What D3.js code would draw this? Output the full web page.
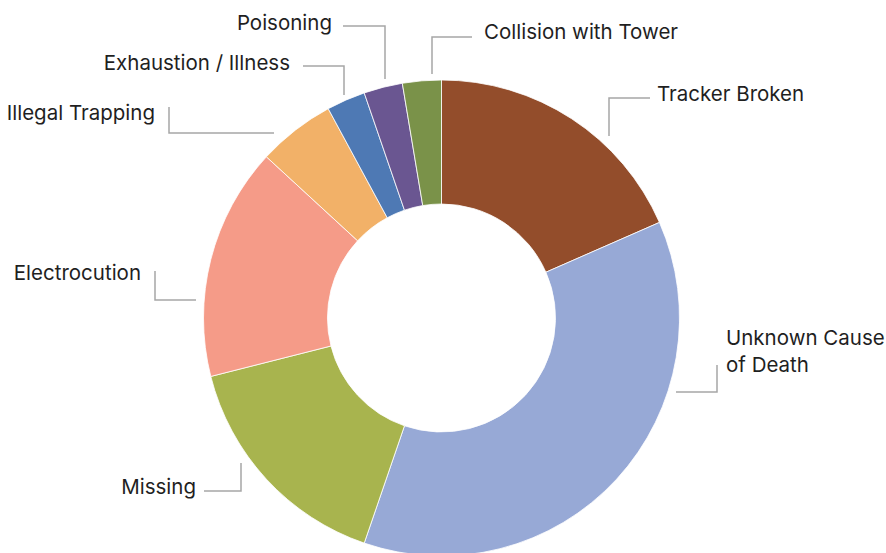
<html lang="en">
<head>
<meta charset="UTF-8">
<title>Causes</title>
<style>
  body { margin: 0; background: #fff; }
  .slice { stroke: #fff; stroke-width: 0.8px; }
  .leader { fill: none; stroke: #a6a6a6; stroke-width: 1.5px; }
  .label { font-family: Inter, "Noto Sans", sans-serif; font-size: 20.5px; fill: #1f1f1f; }
</style>
</head>
<body>
<svg></svg>
<script src="https://cdnjs.cloudflare.com/ajax/libs/d3/7.8.5/d3.min.js"></script>
<script>

var categories = ["Tracker Broken", "Unknown Cause of Death", "Missing", "Electrocution",
                  "Illegal Trapping", "Exhaustion / Illness", "Poisoning", "Collision with Tower"];
var counts = [7, 14, 6, 6, 2, 1, 1, 1];
var colors = ["#934d2b", "#97a9d6", "#a8b44e", "#f59b88", "#f2b168", "#4e79b4", "#6a5691", "#7a9249"];

var width = 886,
    height = 553,
    cx = 441.5,
    cy = 318,
    outer = 238,
    inner = 114;

// label placement: text lines, anchor, text x / baseline, leader polyline
var labelLayout = [
  { lines: ["Tracker Broken"], anchor: "start", x: 657, y: 101, leader: [[609, 136], [609, 98], [650, 98]] },
  { lines: ["Unknown Cause", "of Death"], anchor: "start", x: 726, y: 345, leader: [[676, 392], [717, 392], [717, 365]] },
  { lines: ["Missing"], anchor: "end", x: 196, y: 494, leader: [[204, 491], [241, 491], [241, 463]] },
  { lines: ["Electrocution"], anchor: "end", x: 141, y: 280, leader: [[155, 271], [155, 300], [196, 300]] },
  { lines: ["Illegal Trapping"], anchor: "end", x: 155, y: 120, leader: [[169, 107], [169, 133], [274, 133]] },
  { lines: ["Exhaustion / Illness"], anchor: "end", x: 290, y: 70, leader: [[303, 66], [344, 66], [344, 95]] },
  { lines: ["Poisoning"], anchor: "end", x: 332, y: 30, leader: [[343, 26], [385, 26], [385, 79]] },
  { lines: ["Collision with Tower"], anchor: "start", x: 484, y: 39, leader: [[432, 74], [432, 37], [472, 37]] }
];

var svg = d3.select("svg")
  .attr("width", width)
  .attr("height", height);

var pie = d3.pie().sort(null).value(function(d) { return d; });
var arc = d3.arc().innerRadius(inner).outerRadius(outer);

var g = svg.append("g")
  .attr("transform", "translate(" + cx + "," + cy + ")");

g.selectAll("path")
  .data(pie(counts))
  .enter()
  .append("path")
    .attr("class", "slice")
    .attr("d", arc)
    .style("fill", function(d, i) { return colors[i]; });

var line = d3.line();

svg.selectAll(".leader")
  .data(labelLayout)
  .enter()
  .append("path")
    .attr("class", "leader")
    .attr("d", function(d) { return line(d.leader); });

var labels = svg.selectAll(".label")
  .data(labelLayout)
  .enter()
  .append("text")
    .attr("class", "label")
    .attr("text-anchor", function(d) { return d.anchor; })
    .attr("x", function(d) { return d.x; })
    .attr("y", function(d) { return d.y; });

labels.selectAll("tspan")
  .data(function(d) { return d.lines.map(function(l) { return { text: l, x: d.x }; }); })
  .enter()
  .append("tspan")
    .attr("x", function(d) { return d.x; })
    .attr("dy", function(d, i) { return i ? 27 : 0; })
    .text(function(d) { return d.text; });

</script>
</body>
</html>
